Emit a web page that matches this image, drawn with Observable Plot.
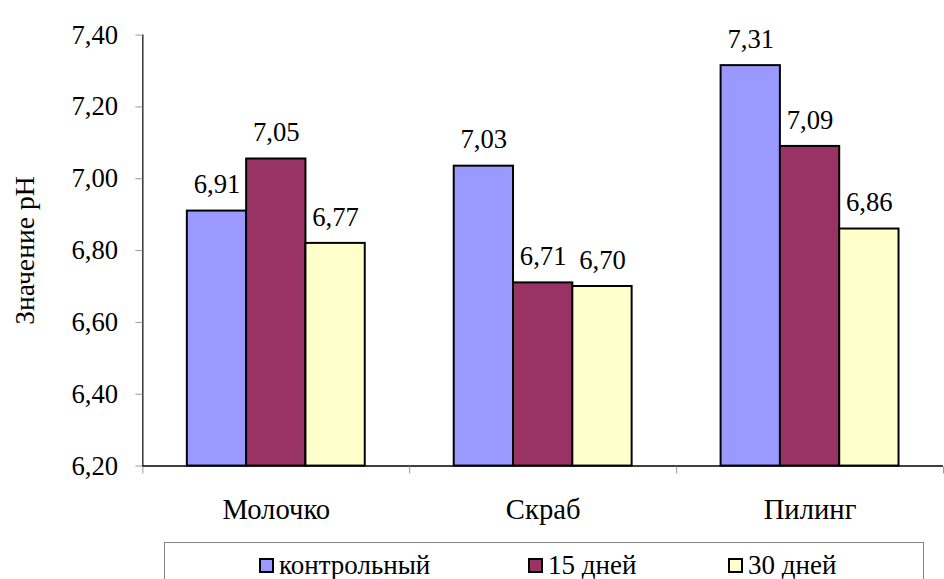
<!DOCTYPE html>
<html>
<head>
<meta charset="utf-8">
<script src="https://cdn.jsdelivr.net/npm/d3@7"></script>
<script src="https://cdn.jsdelivr.net/npm/@observablehq/plot@0.6"></script>
<style>
  html, body { margin: 0; padding: 0; background: white; overflow: hidden; }
  #wrap { position: relative; width: 944px; height: 579px; overflow: hidden; font-family: 'Liberation Serif', Tinos, 'DejaVu Serif', serif; }
  #legend { position: absolute; left: 164px; top: 542px; width: 760px; height: 40px; border: 1px solid #888; border-bottom: none; box-sizing: border-box; }
  .item { position: absolute; top: 9px; display: flex; align-items: center; font-size: 27px; line-height: 26px; height: 26px; color: black; white-space: nowrap; }
  .sw { width: 11px; height: 11px; border: 2px solid black; margin-right: 5px; }
</style>
</head>
<body>
<div id="wrap"><div id="chart"></div><div id="legend"></div></div>
<script>
const categories = ["Молочко", "Скраб", "Пилинг"];
const seriesNames = ["контрольный", "15 дней", "30 дней"];
const seriesColors = ["#9999FF", "#993366", "#FFFFCC"];
const valuesControl = [6.91, 7.035, 7.315];
const values15 = [7.055, 6.71, 7.09];
const values30 = [6.82, 6.70, 6.86];
const labelsControl = ["6,91", "7,03", "7,31"];
const labels15 = ["7,05", "6,71", "7,09"];
const labels30 = ["6,77", "6,70", "6,86"];
const yTicks = [6.2, 6.4, 6.6, 6.8, 7.0, 7.2, 7.4];
const yTitle = "Значение pH";

const seriesValues = [valuesControl, values15, values30];
const seriesLabels = [labelsControl, labels15, labels30];
const data = categories.flatMap((c, i) => seriesNames.map((s, j) => ({
  cat: c, series: s, value: seriesValues[j][i], label: seriesLabels[j][i]
})));

const H = 540, MT = 35, MB = 69;
const innerH = H - MT - MB;

const chart = Plot.plot({
  width: 955, height: H,
  marginLeft: 143, marginRight: 0, marginTop: MT, marginBottom: MB,
  style: { fontFamily: "'Liberation Serif', Tinos, 'DejaVu Serif', serif", background: "white", color: "black" },
  fx: { domain: categories, padding: 0, label: null },
  x: { domain: seriesNames, paddingInner: 0, paddingOuter: 0.744, axis: null },
  y: { domain: [6.2, 7.4] },
  color: { domain: seriesNames, range: seriesColors },
  marks: [
    Plot.barY(data, { fx: "cat", x: "series", y1: 6.2, y2: "value", fill: "series", stroke: "black", strokeWidth: 2 }),
    Plot.ruleY([6.2], { stroke: "black", strokeWidth: 1.5 }),
    Plot.frame({ anchor: "left", facetAnchor: "left", stroke: "black", strokeWidth: 1.2 }),
    Plot.frame({ anchor: "left", stroke: "#999", insetTop: innerH + 1, insetBottom: -7 }),
    Plot.frame({ anchor: "right", facetAnchor: "right", stroke: "#999", insetTop: innerH + 1, insetBottom: -7 }),
    Plot.axisY({ ticks: yTicks, tickFormat: d => d.toFixed(2).replace(".", ","), tickSize: 7, tickPadding: 18, stroke: "#999", fill: "black", fontSize: 27, label: null }),
    Plot.axisFx({ anchor: "bottom", tickSize: 0, tickPadding: 33, fontSize: 29, label: null }),
    Plot.text(data, { fx: "cat", x: "series", y: "value", text: "label", dy: -18, lineAnchor: "bottom", fontSize: 27, fill: "black" }),
    Plot.text([{ cat: categories[0], t: yTitle }], { fx: "cat", text: "t", frameAnchor: "left", textAnchor: "middle", rotate: -90, dx: -119, fontSize: 28, fill: "black" })
  ]
});
document.getElementById("chart").appendChild(chart);

const legendLefts = [94, 363, 563];
const legend = document.getElementById("legend");
seriesNames.forEach((s, j) => {
  const item = document.createElement("div");
  item.className = "item";
  item.style.left = legendLefts[j] + "px";
  const sw = document.createElement("div");
  sw.className = "sw";
  sw.style.background = seriesColors[j];
  const t = document.createElement("span");
  t.textContent = s;
  item.appendChild(sw); item.appendChild(t);
  legend.appendChild(item);
});
</script>
</body>
</html>
